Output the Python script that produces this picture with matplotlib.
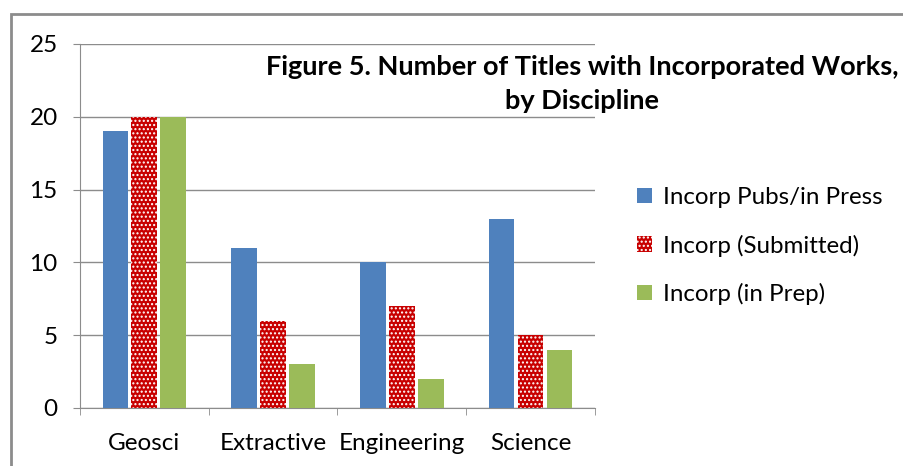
import matplotlib.pyplot as plt
import matplotlib.patches as mpatches
import numpy as np

categories = ["Geosci", "Extractive", "Engineering", "Science"]
series_names = ["Incorp Pubs/in Press", "Incorp (Submitted)", "Incorp (in Prep)"]
pubs_in_press = [19, 11, 10, 13]
submitted = [20, 6, 7, 5]
in_prep = [20, 3, 2, 4]
y_ticks = [0, 5, 10, 15, 20, 25]

plt.rcParams['font.family'] = ['Lato', 'DejaVu Sans']

fig = plt.figure(figsize=(9.04, 4.66), dpi=100)
ax = fig.add_axes([0.0885, 0.1245, 0.5695, 0.7811])

x = np.arange(len(categories))
w = 0.2
step = 0.225
ax.bar(x - step, pubs_in_press, w, color="#4F81BD", label=series_names[0], zorder=3)
ax.bar(x, submitted, w, color="#C80000", edgecolor="white", linewidth=0,
       hatch="....", label=series_names[1], zorder=3)
ax.bar(x + step, in_prep, w, color="#9BBB59", label=series_names[2], zorder=3)

ax.set_xlim(-0.5, len(categories) - 0.5)
ax.set_ylim(0, 25)
ax.set_yticks(y_ticks)
ax.yaxis.grid(True, color="#8c8c8c", linewidth=1, zorder=0)
ax.set_axisbelow(True)

# category labels centred, tick marks on the boundaries
ax.set_xticks(x)
ax.set_xticklabels(categories, fontsize=17.5)
ax.tick_params(axis="x", length=0, pad=18)
ax.set_xticks(np.arange(len(categories) + 1) - 0.5, minor=True)
ax.tick_params(axis="x", which="minor", length=5, color="#8c8c8c")
ax.tick_params(axis="y", length=5, color="#8c8c8c", labelsize=17.5, pad=11)

for s in ["top", "right"]:
    ax.spines[s].set_visible(False)
for s in ["left", "bottom"]:
    ax.spines[s].set_color("#8c8c8c")

fig.text(0.644, 0.82, "Figure 5. Number of Titles with Incorporated Works,\nby Discipline",
         ha="center", va="center", fontsize=19.5, fontweight="bold",
         multialignment="center", linespacing=1.5)

fig.legend(loc="center left", bbox_to_anchor=(0.681, 0.472), frameon=False,
           fontsize=17.4, handlelength=0.6, handleheight=0.6, handletextpad=0.45,
           labelspacing=1.1)

# outer chart border
fig.add_artist(mpatches.Rectangle((0.0125, -0.1), 1.2, 1.07, transform=fig.transFigure,
                                  fill=False, edgecolor="#8c8c8c", linewidth=2, clip_on=False))

fig.savefig("out.png", dpi=100)
